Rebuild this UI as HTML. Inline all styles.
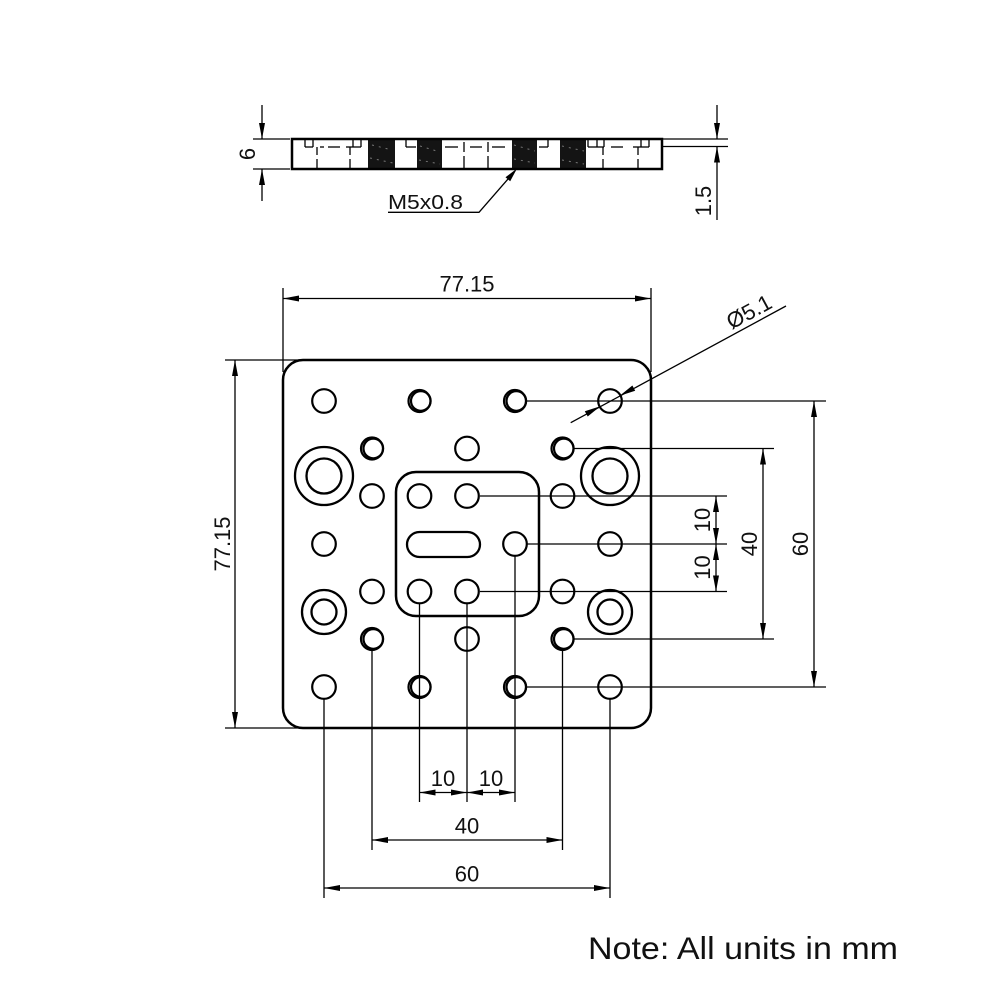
<!DOCTYPE html>
<html><head><meta charset="utf-8"><style>
html,body{margin:0;padding:0;background:#fff;}
svg{display:block;}
text{font-family:"Liberation Sans",Arial,sans-serif;fill:#111;}
</style></head><body>
<svg width="1000" height="1000" viewBox="0 0 1000 1000" xmlns="http://www.w3.org/2000/svg">
<rect width="1000" height="1000" fill="#fff"/>

<!-- ============ SIDE VIEW ============ -->
<g stroke="#000" fill="none">
  <!-- threaded blocks -->
  <g fill="#141414" stroke="none">
    <rect x="368" y="139" width="27" height="30"/>
    <rect x="417" y="139" width="25" height="30"/>
    <rect x="512" y="139" width="25" height="30"/>
    <rect x="560" y="139" width="26" height="30"/>
  </g>
  <g stroke="#777" stroke-width="1" stroke-dasharray="2 5">
    <line x1="372" y1="145" x2="392" y2="150"/><line x1="370" y1="158" x2="393" y2="163"/>
    <line x1="420" y1="146" x2="440" y2="152"/><line x1="419" y1="160" x2="440" y2="164"/>
    <line x1="514" y1="145" x2="535" y2="151"/><line x1="514" y1="159" x2="535" y2="163"/>
    <line x1="562" y1="146" x2="584" y2="151"/><line x1="562" y1="160" x2="584" y2="164"/>
  </g>
  <!-- hidden line (pocket/counterbore floor) -->
  <g stroke-width="1.3">
    <line x1="305" y1="147" x2="313" y2="147"/>
    <line x1="320" y1="147" x2="324" y2="147"/>
    <line x1="328" y1="147" x2="340" y2="147"/>
    <line x1="346" y1="147" x2="361" y2="147"/>
    <line x1="406" y1="147" x2="416" y2="147"/>
    <line x1="445" y1="147" x2="458" y2="147"/>
    <line x1="470" y1="147" x2="482" y2="147"/>
    <line x1="492" y1="147" x2="505" y2="147"/>
    <line x1="539" y1="147" x2="548" y2="147"/>
    <line x1="588" y1="147" x2="604" y2="147"/>
    <line x1="611" y1="147" x2="623" y2="147"/>
    <line x1="633" y1="147" x2="649" y2="147"/>
    <!-- short verticals top -->
    <line x1="305" y1="139" x2="305" y2="147"/>
    <line x1="313" y1="139" x2="313" y2="147"/>
    <line x1="353" y1="139" x2="353" y2="147"/>
    <line x1="361" y1="139" x2="361" y2="147"/>
    <line x1="406" y1="139" x2="406" y2="147"/>
    <line x1="548" y1="139" x2="548" y2="147"/>
    <line x1="588" y1="139" x2="588" y2="147"/>
    <line x1="597" y1="139" x2="597" y2="147"/>
    <line x1="604" y1="139" x2="604" y2="147"/>
    <line x1="641" y1="139" x2="641" y2="147"/>
    <line x1="649" y1="139" x2="649" y2="147"/>
    <!-- verticals bottom -->
    <line x1="317" y1="147" x2="317" y2="155"/><line x1="317" y1="159" x2="317" y2="169"/>
    <line x1="350" y1="147" x2="350" y2="155"/><line x1="350" y1="159" x2="350" y2="169"/>
    <line x1="464" y1="142" x2="464" y2="152"/><line x1="464" y1="156" x2="464" y2="169"/>
    <line x1="488" y1="142" x2="488" y2="152"/><line x1="488" y1="156" x2="488" y2="169"/>
    <line x1="603" y1="147" x2="603" y2="155"/><line x1="603" y1="159" x2="603" y2="169"/>
    <line x1="638" y1="147" x2="638" y2="155"/><line x1="638" y1="159" x2="638" y2="169"/>
  </g>
  <rect x="292" y="139" width="370" height="30" stroke-width="2.5"/>
</g>

<!-- side dims -->
<g stroke="#000" stroke-width="1.3" fill="none">
  <line x1="253" y1="139" x2="290" y2="139"/>
  <line x1="253" y1="169" x2="290" y2="169"/>
  <line x1="262" y1="105" x2="262" y2="139"/>
  <line x1="262" y1="169" x2="262" y2="201"/>
  <line x1="662" y1="139" x2="728" y2="139"/>
  <line x1="662" y1="146.5" x2="728" y2="146.5"/>
  <line x1="717" y1="105" x2="717" y2="139"/>
  <line x1="717" y1="146.5" x2="717" y2="220"/>
  <!-- leader -->
  <polyline points="388,212.3 479,212.3 515,171"/>
</g>
<g fill="#000">
  <polygon points="262,139 259,123 265,123"/>
  <polygon points="262,169 259,185 265,185"/>
  <polygon points="717,139 714,123 720,123"/>
  <polygon points="717,146.5 714,162.5 720,162.5"/>
  <polygon points="517,168.5 505.5,177.3 510.2,181.2"/>
</g>
<text transform="translate(255,154) rotate(-90)" text-anchor="middle" font-size="22">6</text>
<text transform="translate(711,201) rotate(-90)" text-anchor="middle" font-size="22">1.5</text>
<text x="388" y="209" font-size="20" textLength="75" lengthAdjust="spacingAndGlyphs">M5x0.8</text>

<!-- ============ TOP VIEW ============ -->
<g stroke="#000" fill="none">
  <rect x="283" y="360" width="368" height="368" rx="20" ry="20" stroke-width="2.5"/>
  <rect x="396" y="472" width="143" height="144" rx="20" ry="20" stroke-width="2.5"/>
  <rect x="407" y="532" width="73" height="25" rx="12.5" ry="12.5" stroke-width="2.3"/>
  <!-- counterbores -->
  <g stroke-width="2.3">
    <circle cx="324" cy="476" r="29"/><circle cx="324" cy="476" r="17.5"/>
    <circle cx="610" cy="476" r="29"/><circle cx="610" cy="476" r="17.5"/>
    <circle cx="324" cy="612" r="22"/><circle cx="324" cy="612" r="12.5"/>
    <circle cx="610" cy="612" r="22"/><circle cx="610" cy="612" r="12.5"/>
  </g>
  <!-- plain holes -->
  <g stroke-width="2.2">
    <circle cx="324" cy="401" r="11.8"/><circle cx="610" cy="401" r="11.8"/>
    <circle cx="467" cy="448.5" r="11.8"/>
    <circle cx="372" cy="496" r="11.8"/><circle cx="419.5" cy="496" r="11.8"/><circle cx="467" cy="496" r="11.8"/><circle cx="562.5" cy="496" r="11.8"/>
    <circle cx="324" cy="544" r="11.8"/><circle cx="515" cy="544" r="11.8"/><circle cx="610" cy="544" r="11.8"/>
    <circle cx="372" cy="591.5" r="11.8"/><circle cx="419.5" cy="591.5" r="11.8"/><circle cx="467" cy="591.5" r="11.8"/><circle cx="562.5" cy="591.5" r="11.8"/>
    <circle cx="467" cy="639" r="11.8"/>
    <circle cx="324" cy="687" r="11.8"/><circle cx="610" cy="687" r="11.8"/>
  </g>
  <!-- threaded holes -->
  <g stroke-width="2.2">
    <circle cx="419.5" cy="401" r="11"/><circle cx="420.8" cy="401" r="9.8"/>
    <circle cx="515" cy="401" r="11"/><circle cx="516.3" cy="401" r="9.8"/>
    <circle cx="372" cy="448.5" r="11"/><circle cx="373.3" cy="448.5" r="9.8"/>
    <circle cx="562.5" cy="448.5" r="11"/><circle cx="563.8" cy="448.5" r="9.8"/>
    <circle cx="372" cy="639" r="11"/><circle cx="373.3" cy="639" r="9.8"/>
    <circle cx="562.5" cy="639" r="11"/><circle cx="563.8" cy="639" r="9.8"/>
    <circle cx="419.5" cy="687" r="11"/><circle cx="420.8" cy="687" r="9.8"/>
    <circle cx="515" cy="687" r="11"/><circle cx="516.3" cy="687" r="9.8"/>
  </g>
</g>

<!-- dimension / extension lines -->
<g stroke="#000" stroke-width="1.3" fill="none">
  <!-- top 77.15 -->
  <line x1="283" y1="288" x2="283" y2="372"/>
  <line x1="651" y1="288" x2="651" y2="372"/>
  <line x1="283" y1="298.5" x2="651" y2="298.5"/>
  <!-- left 77.15 -->
  <line x1="225" y1="360" x2="300" y2="360"/>
  <line x1="225" y1="728" x2="300" y2="728"/>
  <line x1="235" y1="360" x2="235" y2="728"/>
  <!-- right horizontals -->
  <line x1="480" y1="496" x2="727" y2="496"/>
  <line x1="527" y1="544" x2="727" y2="544"/>
  <line x1="480" y1="591.5" x2="727" y2="591.5"/>
  <line x1="574" y1="448.5" x2="774" y2="448.5"/>
  <line x1="574" y1="639" x2="774" y2="639"/>
  <line x1="527" y1="401" x2="826" y2="401"/>
  <line x1="527" y1="687" x2="826" y2="687"/>
  <line x1="716" y1="496" x2="716" y2="591.5"/>
  <line x1="763" y1="448.5" x2="763" y2="639"/>
  <line x1="814" y1="401" x2="814" y2="687"/>
  <!-- bottom verticals -->
  <line x1="324" y1="699" x2="324" y2="898"/>
  <line x1="372" y1="651" x2="372" y2="850"/>
  <line x1="419.5" y1="603" x2="419.5" y2="802"/>
  <line x1="467" y1="603" x2="467" y2="802"/>
  <line x1="515" y1="556" x2="515" y2="802"/>
  <line x1="562.5" y1="651" x2="562.5" y2="850"/>
  <line x1="610" y1="699" x2="610" y2="898"/>
  <line x1="419.5" y1="792.5" x2="515" y2="792.5"/>
  <line x1="372" y1="840" x2="562.5" y2="840"/>
  <line x1="324" y1="888" x2="610" y2="888"/>
  <!-- diameter leader -->
  <line x1="570.7" y1="422.7" x2="786" y2="306"/>
</g>
<g fill="#000">
  <!-- top 77.15 -->
  <polygon points="283,298.5 299,295.5 299,301.5"/>
  <polygon points="651,298.5 635,295.5 635,301.5"/>
  <!-- left 77.15 -->
  <polygon points="235,360 232,376 238,376"/>
  <polygon points="235,728 232,712 238,712"/>
  <!-- right 10 10 -->
  <polygon points="716,496 713,512 719,512"/>
  <polygon points="716,544 713,528 719,528"/>
  <polygon points="716,544 713,560 719,560"/>
  <polygon points="716,591.5 713,575.5 719,575.5"/>
  <!-- right 40 -->
  <polygon points="763,448.5 760,464.5 766,464.5"/>
  <polygon points="763,639 760,623 766,623"/>
  <!-- right 60 -->
  <polygon points="814,401 811,417 817,417"/>
  <polygon points="814,687 811,671 817,671"/>
  <!-- bottom 10 10 -->
  <polygon points="419.5,792.5 435.5,789.5 435.5,795.5"/>
  <polygon points="467,792.5 451,789.5 451,795.5"/>
  <polygon points="467,792.5 483,789.5 483,795.5"/>
  <polygon points="515,792.5 499,789.5 499,795.5"/>
  <!-- bottom 40 -->
  <polygon points="372,840 388,837 388,843"/>
  <polygon points="562.5,840 546.5,837 546.5,843"/>
  <!-- bottom 60 -->
  <polygon points="324,888 340,885 340,891"/>
  <polygon points="610,888 594,885 594,891"/>
  <!-- diameter arrows -->
  <polygon points="600.3,406.2 584.8,411.2 587.7,416.5"/>
  <polygon points="619.7,395.8 632.4,385.5 635.2,390.8"/>
</g>

<!-- dimension texts -->
<g font-size="22">
  <text x="467" y="291.5" text-anchor="middle">77.15</text>
  <text transform="translate(230,544) rotate(-90)" text-anchor="middle">77.15</text>
  <text transform="translate(710,520) rotate(-90)" text-anchor="middle">10</text>
  <text transform="translate(710,567.5) rotate(-90)" text-anchor="middle">10</text>
  <text transform="translate(757,544) rotate(-90)" text-anchor="middle">40</text>
  <text transform="translate(808,544) rotate(-90)" text-anchor="middle">60</text>
  <text x="443" y="786" text-anchor="middle">10</text>
  <text x="491" y="786" text-anchor="middle">10</text>
  <text x="467" y="833.5" text-anchor="middle">40</text>
  <text x="467" y="881.5" text-anchor="middle">60</text>
  <text transform="translate(755,322.8) rotate(-28.5)" x="0" y="-5" text-anchor="middle">Ø5.1</text>
</g>

<text x="588" y="959" font-size="31.5" textLength="310" lengthAdjust="spacingAndGlyphs">Note: All units in mm</text>
</svg>
</body></html>
